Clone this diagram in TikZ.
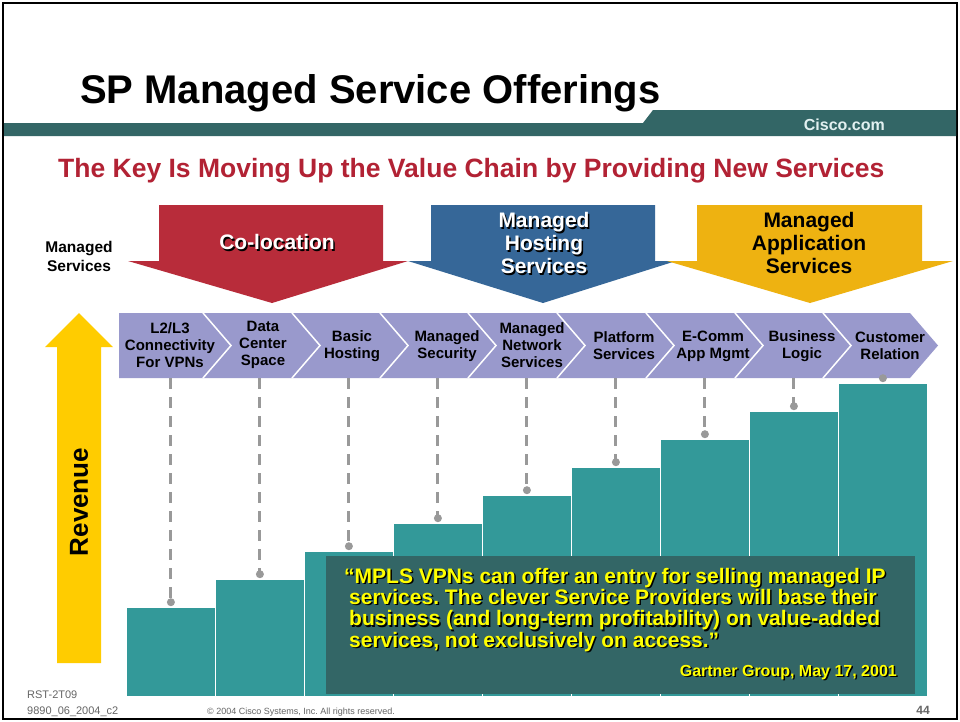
\documentclass[tikz,border=0pt]{standalone}
\usepackage{fontspec}
\setmainfont{Liberation Sans}
\usetikzlibrary{calc}
\frenchspacing
\definecolor{colored}{RGB}{184,44,58}
\definecolor{titlered}{RGB}{178,34,52}
\definecolor{hostblue}{RGB}{54,103,152}
\definecolor{appgold}{RGB}{238,178,17}
\definecolor{revyellow}{RGB}{255,204,0}
\definecolor{chevlilac}{RGB}{153,153,204}
\definecolor{stepteal}{RGB}{51,153,153}
\definecolor{darkteal}{RGB}{51,102,102}
\definecolor{leadgray}{RGB}{153,153,153}
\definecolor{quoteyellow}{RGB}{255,255,0}
\definecolor{footgray}{RGB}{102,102,102}

\begin{document}
\begin{tikzpicture}[x=1pt,y=-1pt,
  chevtext/.style={font=\fontsize{15}{17}\selectfont\bfseries,align=center,inner sep=0pt},
  bigtext/.style={font=\fontsize{21}{23}\selectfont\bfseries,align=center,inner sep=0pt},
  quotetext/.style={font=\fontsize{21}{21.3}\selectfont\bfseries,align=left,inner sep=0pt,anchor=base west},
  bar/.style={fill=stepteal,draw=white,line width=0.8pt,minimum width=89,anchor=south west,inner sep=0pt},
  lead/.style={leadgray,line width=3pt,dash pattern=on 11pt off 8pt},
  dot/.style={circle,fill=leadgray,inner sep=0pt,minimum size=8},
  foot/.style={text=footgray,inner sep=0pt,anchor=base west}]
\useasboundingbox (0,0) rectangle (960,721);
\fill[white] (0,0) rectangle (960,721);

% frame and title bar
\draw[line width=2.5pt] (3,3) rectangle (957,719);
\fill[darkteal] (4,123) -- (643,123) -- (653,110) -- (956,110) -- (956,136) -- (4,136) -- cycle;
\node[anchor=base west,inner sep=0pt,font=\fontsize{40}{48}\selectfont\bfseries] (title) at (80,103) {SP Managed Service Offerings};
\node[anchor=base east,inner sep=0pt,text={rgb,255:red,225;green,240;blue,240},font=\fontsize{16}{18}\selectfont\bfseries] (cisco) at (885,130) {Cisco.com};
\node[anchor=base west,inner sep=0pt,text=titlered,font=\fontsize{26.5}{30}\selectfont\bfseries] (subtitle) at (58,177) {The Key Is Moving Up the Value Chain by Providing New Services};

% big arrows
\fill[hostblue] (431,205) -- (655,205) -- (655,261) -- (676,261) -- (543,303) -- (408,261) -- (431,261) -- cycle;
\fill[appgold] (697,205) -- (922,205) -- (922,261) -- (953,261) -- (810,303) -- (667,261) -- (697,261) -- cycle;
\fill[colored] (159,205) -- (383,205) -- (383,261) -- (408,261) -- (272,303) -- (128,261) -- (159,261) -- cycle;
\node[bigtext] at ([shift={(1.5,1.5)}]277,242) {Co-location};
\node[bigtext,white] (coloc) at (277,242) {Co-location};
\node[bigtext] at ([shift={(1.5,1.5)}]544,243) {Managed\\Hosting\\Services};
\node[bigtext,white] (hosting) at (544,243) {Managed\\Hosting\\Services};
\node[bigtext] (appl) at (809,243) {Managed\\Application\\Services};
\node[inner sep=0pt,align=center,font=\fontsize{15.5}{19}\selectfont\bfseries] (mserv) at (79,256) {Managed\\Services};

% revenue arrow
\fill[revyellow] (57,663) -- (57,347) -- (45,347) -- (79,313) -- (113,347) -- (101,347) -- (101,663) -- cycle;
\node[rotate=90,inner sep=0pt,font=\fontsize{26}{30}\selectfont\bfseries] (revenue) at (79,502) {Revenue};

% chevron row
\fill[chevlilac] (119,313) -- (910,313) -- (938,345.5) -- (910,378) -- (119,378) -- cycle;
\foreach \b in {203,292,380,468,557,646,735,823}
  \draw[white,line width=1.5pt] (\b,313) -- (\b+28,345.5) -- (\b,378);
\node[chevtext] (l2l3) at (170,345) {L2/L3\\Connectivity\\For VPNs};
\node[chevtext] (datacenter) at (263,345) {Data\\Center\\Space};
\node[chevtext] (basic) at (352,346) {Basic\\Hosting};
\node[chevtext] (security) at (447,346) {Managed\\Security};
\node[chevtext] (network) at (532,345) {Managed\\Network\\Services};
\node[chevtext] (platform) at (624,346) {Platform\\Services};
\node[chevtext] (ecomm) at (713,346) {E-Comm\\App Mgmt};
\node[chevtext] (logic) at (802,346) {Business\\Logic};
\node[chevtext] (relation) at (890,346) {Customer\\Relation};
\coordinate (chevfoot) at (0,378);

% revenue steps
\foreach \i in {1,...,9}{
  \node[bar,minimum height={89+28*(\i-1)}] (bar\i) at ({126+89*(\i-1)},697) {};
  \node[dot] (pin\i) at ([yshift=5pt]bar\i.north) {};
  \draw[lead] (bar\i.north |- chevfoot) -- (pin\i.center);
}

% quote
\node[fill=darkteal,minimum width=589,minimum height=138,anchor=north west,inner sep=0pt] (quote) at (326,556) {};
\node[quotetext] at ([shift={(1.5,1.5)}]344,647) {“MPLS VPNs can offer an entry for selling managed IP\\\hspace*{5pt}services. The clever Service Providers will base their\\\hspace*{5pt}business (and long-term profitability) on value-added\\\hspace*{5pt}services, not exclusively on access.”};
\node[quotetext,quoteyellow] (quotetxt) at (344,647) {“MPLS VPNs can offer an entry for selling managed IP\\\hspace*{5pt}services. The clever Service Providers will base their\\\hspace*{5pt}business (and long-term profitability) on value-added\\\hspace*{5pt}services, not exclusively on access.”};
\node[anchor=base east,inner sep=0pt,font=\fontsize{16}{18}\selectfont\bfseries] at ([shift={(1.5,1.5)}]897,676) {Gartner Group, May 17, 2001};
\node[anchor=base east,inner sep=0pt,quoteyellow,font=\fontsize{16}{18}\selectfont\bfseries] (gartner) at (897,676) {Gartner Group, May 17, 2001};

% footer
\node[foot,font=\fontsize{11}{13}\selectfont] (rst) at (27,698) {RST-2T09};
\node[foot,font=\fontsize{11}{13}\selectfont] (code) at (27,714) {9890\_06\_2004\_c2};
\node[foot,font=\fontsize{9}{11}\selectfont] (copy) at (207,714) {© 2004 Cisco Systems, Inc. All rights reserved.};
\node[foot,anchor=base east,font=\fontsize{12}{14}\selectfont\bfseries] (page) at (930,714) {44};
\end{tikzpicture}
\end{document}
